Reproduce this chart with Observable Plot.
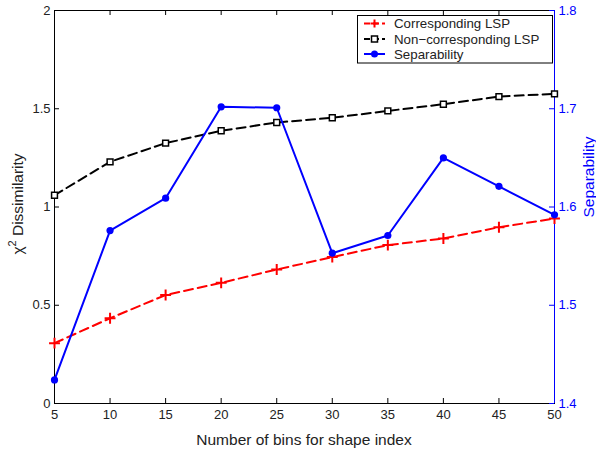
<!DOCTYPE html>
<html><head><meta charset="utf-8">
<script src="https://cdn.jsdelivr.net/npm/d3@7"></script>
<script src="https://cdn.jsdelivr.net/npm/@observablehq/plot@0.6"></script>
<style>
body{margin:0;background:#fff;}
#wrap{position:relative;width:596px;height:452px;font-family:"Liberation Sans",Arial,sans-serif;}
#legend{position:absolute;left:357px;top:15px;}
</style></head><body><div id="wrap"></div>
<script>
const bins = [5, 10, 15, 20, 25, 30, 35, 40, 45, 50];
const corresponding = [0.307, 0.434, 0.552, 0.614, 0.682, 0.745, 0.806, 0.840, 0.897, 0.941];
const nonCorresponding = [1.06, 1.23, 1.325, 1.388, 1.43, 1.454, 1.489, 1.523, 1.562, 1.576];
const separability = [1.424, 1.576, 1.609, 1.702, 1.701, 1.553, 1.571, 1.650, 1.621, 1.592];
const leftTicks = [0, 0.5, 1, 1.5, 2];
const rightTicks = [1.4, 1.5, 1.6, 1.7, 1.8];
const seriesNames = ["Corresponding LSP", "Non\u2212corresponding LSP", "Separability"];
const xLabel = "Number of bins for shape index";
const yLabel = "Dissimilarity";
const y2Label = "Separability";

const BLUE = "#0000ff", RED = "#ff0000", INK = "#222";
const W = 596, H = 452, mL = 54, mR = 42, mT = 10, mB = 49;
const pw = W - mL - mR, ph = H - mT - mB;
const toLeft = s => (s - 1.4) * 5;   // right axis (1.4–1.8) onto left domain (0–2)

const rows = bins.map((b, i) => ({b, c: corresponding[i], n: nonCorresponding[i], s: separability[i]}));

const chart = Plot.plot({
  width: W, height: H,
  marginLeft: mL, marginRight: mR, marginTop: mT, marginBottom: mB,
  style: {fontSize: "13px", fontFamily: "Liberation Sans, Arial, sans-serif", background: "white", color: INK, overflow: "visible"},
  x: {domain: [5, 50]},
  y: {domain: [0, 2]},
  marks: [
    Plot.axisX(bins, {tickSize: 0, tickPadding: 6, label: null, fill: INK}),
    Plot.axisY(leftTicks, {anchor: "left", tickSize: 0, tickPadding: 4, tickFormat: d => String(d), label: null, fill: INK}),
    Plot.axisY(rightTicks.map(toLeft), {anchor: "right", tickSize: 0, tickPadding: 4, fill: BLUE, tickFormat: d => (1.4 + d / 5).toFixed(1), label: null}),
    Plot.frame({stroke: "black"}),
    Plot.tickX(bins, {x: d => d, insetTop: ph - 5, stroke: "black"}),
    Plot.tickX(bins, {x: d => d, insetBottom: ph - 5, stroke: "black"}),
    Plot.tickY(leftTicks, {y: d => d, insetRight: pw - 5, stroke: "black"}),
    Plot.tickY(rightTicks.map(toLeft), {y: d => d, insetLeft: pw - 5, stroke: BLUE}),
    Plot.ruleX([50], {stroke: BLUE}),
    Plot.line(rows, {x: "b", y: "c", stroke: RED, strokeWidth: 2, strokeDasharray: "9,5"}),
    Plot.dot(rows, {x: "b", y: "c", symbol: "plus", r: 3.6, stroke: RED, strokeWidth: 2}),
    Plot.line(rows, {x: "b", y: "n", stroke: "black", strokeWidth: 2, strokeDasharray: "9,5"}),
    Plot.dot(rows, {x: "b", y: "n", symbol: "square", r: 3.3, stroke: "black", fill: "white", strokeWidth: 1.5}),
    Plot.line(rows, {x: "b", y: d => toLeft(d.s), stroke: BLUE, strokeWidth: 2}),
    Plot.dot(rows, {x: "b", y: d => toLeft(d.s), r: 3.6, fill: BLUE})
  ]
});
document.getElementById("wrap").appendChild(chart);

// Axis titles (with superscript for chi-squared)
const svg = d3.select(chart);
const font = "Liberation Sans, Arial, sans-serif";
svg.append("text").attr("x", mL + pw / 2).attr("y", 445).attr("text-anchor", "middle")
  .attr("font-family", font).attr("font-size", 15.5).attr("fill", INK).text(xLabel);
const yl = svg.append("text").attr("transform", `translate(23,204) rotate(-90)`).attr("text-anchor", "middle")
  .attr("font-family", font).attr("font-size", 15.5).attr("fill", INK);
yl.append("tspan").text("\u03c7");
yl.append("tspan").attr("font-size", 11).attr("dy", -7).text("2");
yl.append("tspan").attr("dy", 7).text(" " + yLabel);
svg.append("text").attr("transform", `translate(594,177) rotate(-90)`).attr("text-anchor", "middle")
  .attr("font-family", font).attr("font-size", 15.5).attr("fill", BLUE).text(y2Label);

// Legend
const lg = d3.select("#wrap").append("svg").attr("id", "legend").attr("width", 197).attr("height", 49)
  .style("font-family", font).style("font-size", "13.3px");
lg.append("rect").attr("x", 0.5).attr("y", 0.5).attr("width", 195).attr("height", 47.5).attr("fill", "white").attr("stroke", "black");
const ys = [8.5, 24, 39];
const styles = [
  {stroke: RED, dash: "6,3"},
  {stroke: "black", dash: "6,3"},
  {stroke: BLUE, dash: null}
];
seriesNames.forEach((name, i) => {
  const g = lg.append("g");
  g.append("line").attr("x1", 7).attr("x2", 28).attr("y1", ys[i]).attr("y2", ys[i])
    .attr("stroke", styles[i].stroke).attr("stroke-width", 2).attr("stroke-dasharray", styles[i].dash);
  if (i === 0) {
    g.append("path").attr("d", `M13.5,${ys[i]}h8M17.5,${ys[i]-4}v8`).attr("stroke", RED).attr("stroke-width", 2);
  } else if (i === 1) {
    g.append("rect").attr("x", 14.5).attr("y", ys[i] - 3).attr("width", 6).attr("height", 6).attr("fill", "white").attr("stroke", "black").attr("stroke-width", 1.5);
  } else {
    g.append("circle").attr("cx", 17.5).attr("cy", ys[i]).attr("r", 3.5).attr("fill", BLUE);
  }
  g.append("text").attr("x", 37).attr("y", ys[i]).attr("dy", "0.35em").attr("fill", INK).text(name);
});
</script>
</body></html>
